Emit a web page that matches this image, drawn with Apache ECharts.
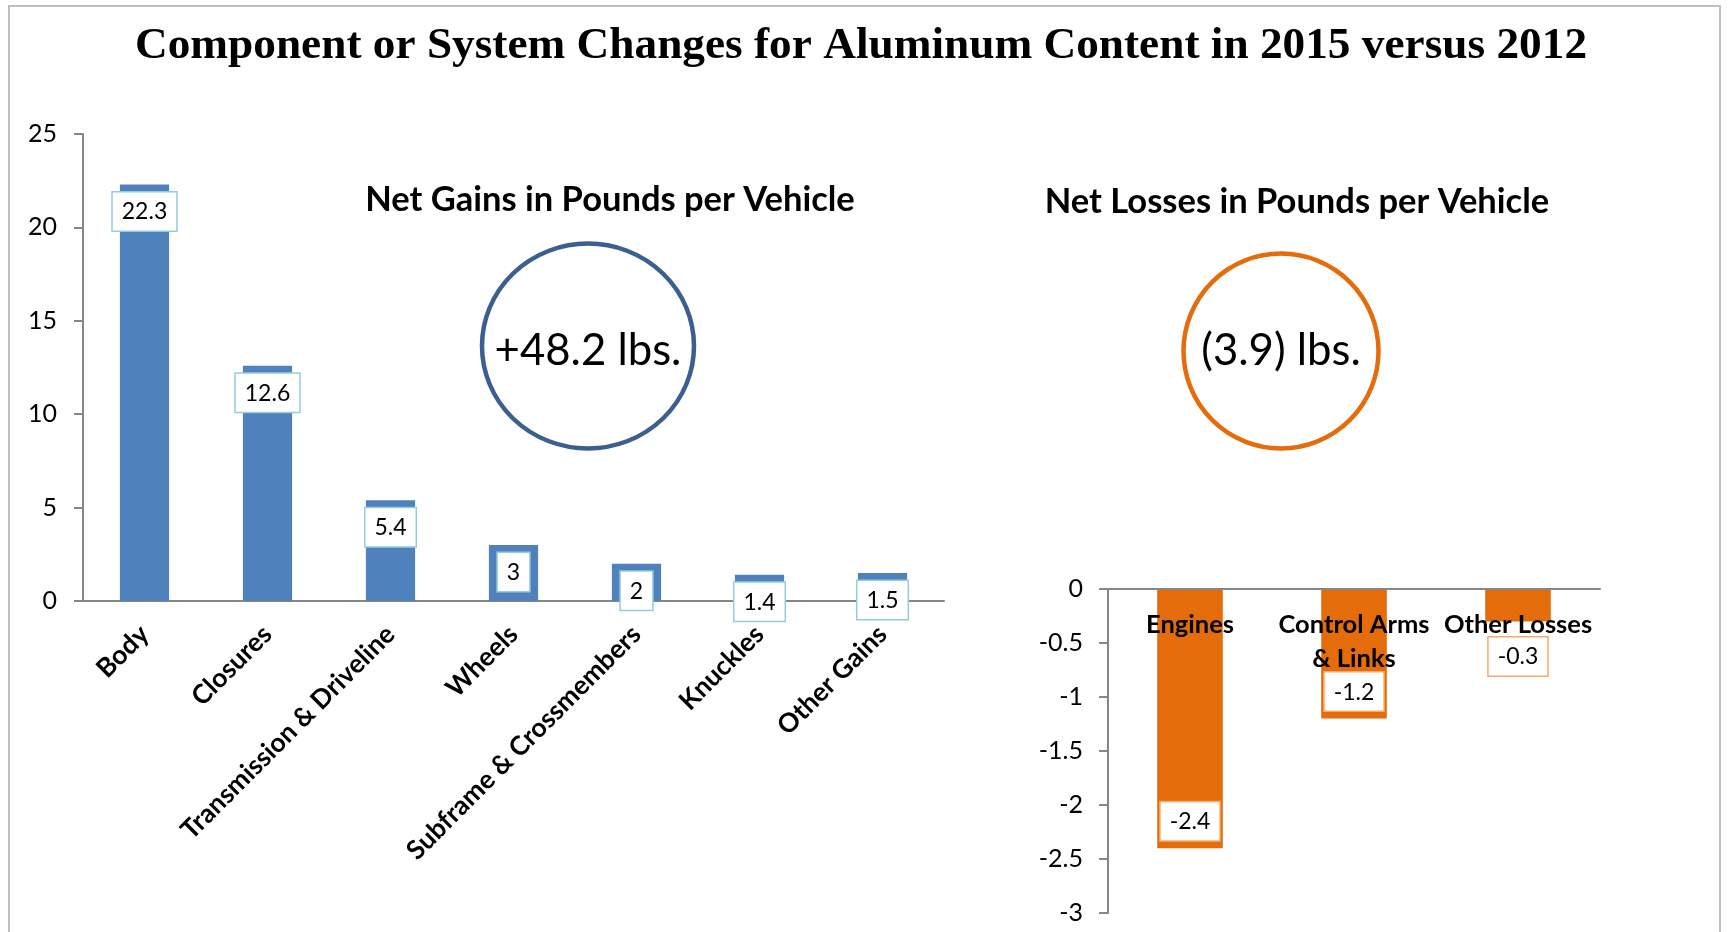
<!DOCTYPE html>
<html><head><meta charset="utf-8">
<script src="https://cdn.jsdelivr.net/npm/echarts@6/dist/echarts.min.js"></script>
<style>html,body{margin:0;padding:0;background:#fff}#c{width:1729px;height:932px}</style>
</head><body><div id="c"></div>
<script>
// ---- data ----
const titleText = 'Component or System Changes for Aluminum Content in 2015 versus 2012';
const gainsTitle = 'Net Gains in Pounds per Vehicle';
const lossesTitle = 'Net Losses in Pounds per Vehicle';
const gainCategories = ['Body', 'Closures', 'Transmission & Driveline', 'Wheels', 'Subframe & Crossmembers', 'Knuckles', 'Other Gains'];
const gainValues = [22.3, 12.6, 5.4, 3, 2, 1.4, 1.5];
const lossCategories = ['Engines', 'Control Arms\n& Links', 'Other Losses'];
const lossValues = [-2.4, -1.2, -0.3];
const gainAxis = { min: 0, max: 25, interval: 5 };
const lossAxis = { min: -3, max: 0, interval: 0.5 };

const gainTotal = gainValues.reduce((a, b) => a + b, 0);
const lossTotal = lossValues.reduce((a, b) => a + b, 0);
const gainText = '+' + gainTotal.toFixed(1) + ' lbs.';
const lossText = '(' + Math.abs(lossTotal).toFixed(1) + ') lbs.';

// ---- style ----
const SANS = 'Lato';
const SERIF = '"Liberation Serif"';
const BLUE = '#4f81bd', ORANGE = '#e46c0a', AXIS = '#868686';
function fit(text, family, weight, w) {
  const c = document.createElement('canvas').getContext('2d');
  c.font = weight + ' 100px ' + family;
  return Math.round(100 * w / c.measureText(text).width * 10) / 10;
}
const titleSize = fit(titleText, SERIF, 'bold', 1452);
const subSize = fit(lossesTitle, SANS, 'bold', 505);
const bigSize = fit(gainText, SANS, 'normal', 187);
const catSize = fit('Transmission & Driveline', SANS, 'bold', 290);
const lossCatSize = fit('Engines', SANS, 'bold', 88);

const chart = echarts.init(document.getElementById('c'), null, { renderer: 'canvas' });
const axisLineStyle = { color: AXIS, width: 2 };
chart.setOption({
  animation: false,
  backgroundColor: '#fff',
  grid: [
    { left: 83, top: 134, width: 861, height: 467 },
    { left: 1108, top: 589, width: 492, height: 324 }
  ],
  xAxis: [
    {
      gridIndex: 0, type: 'category', data: gainCategories,
      axisLine: { lineStyle: axisLineStyle },
      axisTick: { length: 9, lineStyle: axisLineStyle },
      axisLabel: {
        interval: 0, rotate: 45, color: '#000', fontFamily: SANS, fontWeight: 'bold', fontSize: catSize,
        align: 'right', verticalAlign: 'middle', padding: [12, 0, 0, 0], margin: 29
      }
    },
    {
      gridIndex: 1, type: 'category', data: lossCategories, position: 'top', z: 5,
      axisLine: { onZero: false, lineStyle: axisLineStyle },
      axisTick: { inside: true, length: 9, lineStyle: axisLineStyle },
      axisLabel: {
        inside: true, interval: 0, margin: 19, color: '#000', fontFamily: SANS, fontWeight: 'bold',
        fontSize: lossCatSize, lineHeight: 34
      }
    }
  ],
  yAxis: [
    {
      gridIndex: 0, type: 'value', min: gainAxis.min, max: gainAxis.max, interval: gainAxis.interval,
      splitLine: { show: false },
      axisLine: { show: true, lineStyle: axisLineStyle },
      axisTick: { show: true, length: 9, lineStyle: axisLineStyle },
      axisLabel: { color: '#000', fontFamily: SANS, fontSize: 25, margin: 26 }
    },
    {
      gridIndex: 1, type: 'value', min: lossAxis.min, max: lossAxis.max, interval: lossAxis.interval,
      splitLine: { show: false },
      axisLine: { show: true, lineStyle: axisLineStyle },
      axisTick: { show: true, length: 9, lineStyle: axisLineStyle },
      axisLabel: { color: '#000', fontFamily: SANS, fontSize: 25, margin: 25 }
    }
  ],
  series: [
    {
      type: 'bar', xAxisIndex: 0, yAxisIndex: 0, data: gainValues, barWidth: '40%',
      itemStyle: { color: BLUE },
      label: {
        show: true, position: 'insideTop', distance: 8, color: '#000', fontFamily: SANS, fontSize: 23,
        backgroundColor: '#fff', borderColor: '#92cddc', borderWidth: 1.5, padding: [8, 9, 7, 9]
      }
    },
    {
      type: 'bar', xAxisIndex: 1, yAxisIndex: 1, barWidth: '40%',
      data: lossValues.map((v, i) => i === lossValues.length - 1
        ? { value: v, label: { position: 'bottom', distance: 16 } }
        : v),
      itemStyle: { color: ORANGE },
      label: {
        show: true, position: 'insideBottom', distance: 8, color: '#000', fontFamily: SANS, fontSize: 23,
        backgroundColor: '#fff', borderColor: '#f8a96a', borderWidth: 1.5, padding: [8, 9, 7, 9]
      }
    }
  ],
  graphic: [
    { type: 'rect', silent: true, z: -1, shape: { x: 9, y: 6, width: 1711, height: 940 },
      style: { fill: 'none', stroke: '#bfbfbf', lineWidth: 2 } },
    { type: 'text', x: 861, y: 61.5 - 0.34 * titleSize,
      style: { text: titleText, font: 'bold ' + titleSize + 'px ' + SERIF, fill: '#000', textAlign: 'center', textVerticalAlign: 'middle' } },
    { type: 'text', x: 610, y: 200,
      style: { text: gainsTitle, font: 'bold ' + subSize + 'px ' + SANS, fill: '#000', textAlign: 'center', textVerticalAlign: 'middle' } },
    { type: 'text', x: 1297, y: 202,
      style: { text: lossesTitle, font: 'bold ' + subSize + 'px ' + SANS, fill: '#000', textAlign: 'center', textVerticalAlign: 'middle' } },
    { type: 'circle', x: 588, y: 346, scaleY: 102.5 / 106, shape: { cx: 0, cy: 0, r: 106 },
      style: { fill: 'none', stroke: '#3b5f8e', lineWidth: 4.5 } },
    { type: 'circle', x: 1281, y: 351, shape: { cx: 0, cy: 0, r: 97.5 },
      style: { fill: 'none', stroke: ORANGE, lineWidth: 4.5 } },
    { type: 'text', x: 588, y: 351,
      style: { text: gainText, font: bigSize + 'px ' + SANS, fill: '#000', textAlign: 'center', textVerticalAlign: 'middle' } },
    { type: 'text', x: 1281, y: 351,
      style: { text: lossText, font: bigSize + 'px ' + SANS, fill: '#000', textAlign: 'center', textVerticalAlign: 'middle' } }
  ]
});
</script>
</body></html>
